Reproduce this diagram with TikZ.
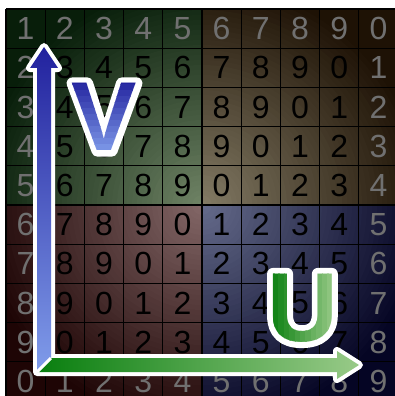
\documentclass[tikz,border=0pt]{standalone}
\usepackage{fontspec}
\setmainfont{Liberation Sans}
\newfontfamily\rimfont{Liberation Sans Bold}[FakeBold=12]
\definecolor{GreenDark}{RGB}{8, 30, 10}
\definecolor{GreenLit}{RGB}{110, 130, 100}
\definecolor{BrownDark}{RGB}{30, 18, 5}
\definecolor{BrownLit}{RGB}{130, 122, 100}
\definecolor{RedDark}{RGB}{30, 5, 5}
\definecolor{RedLit}{RGB}{130, 102, 102}
\definecolor{NavyDark}{RGB}{5, 5, 36}
\definecolor{NavyLit}{RGB}{100, 106, 138}
\definecolor{RimGray}{RGB}{112, 112, 112}
\definecolor{VDark}{RGB}{34, 34, 158}
\definecolor{VLight}{RGB}{128, 156, 234}
\definecolor{UDark}{RGB}{8, 126, 14}
\definecolor{ULight}{RGB}{152, 202, 136}
\newcommand{\cellsize}{39.2}

\begin{document}
\begin{tikzpicture}[x=1pt, y=-1pt,
  every node/.style={inner sep=0pt},
  digit/.style={font=\fontsize{32}{32}\selectfont},
  letter/.style={font=\fontsize{98}{98}\selectfont\bfseries},
  letterrim/.style={font=\fontsize{98}{98}\rimfont, text=white},
  gridline/.style={black, line width=1.3pt},
  arrowrim/.style={draw=white, fill=white, line width=8pt, line join=round}]
\path[use as bounding box] (0,0) rectangle (395,396);
\fill[white] (0,0) rectangle (395,396);
\clip (0,0) rectangle (395,396);
\coordinate (mid) at (202,205);
% lit quadrants
\foreach \qx/\qy/\dk/\lt in {0/0/GreenDark/GreenLit, 1/0/BrownDark/BrownLit,
                             0/1/RedDark/RedLit, 1/1/NavyDark/NavyLit} {
  \begin{scope}
    \clip (6+196*\qx, 9+196*\qy) rectangle ++(196,196);
    \fill[\dk] (6+196*\qx, 9+196*\qy) rectangle ++(196,196);
    \foreach \s in {0,...,44} {
      \pgfmathtruncatemacro\mix{round(\s*100/44)}
      \fill[\lt!\mix!\dk] (mid) circle[radius={(225-5*\s)*1pt}];
    }
  \end{scope}
}
\foreach \k in {0,...,10} {
  \draw[gridline] (6+\cellsize*\k, 9) -- ++(0,392);
  \draw[gridline] (6, 9+\cellsize*\k) -- ++(392,0);
}
% numbers
\foreach \r in {0,...,9} {
  \foreach \c in {0,...,9} {
    \pgfmathtruncatemacro\num{mod(\r+\c+1,10)}
    \pgfmathtruncatemacro\rim{(\r==0)||(\r==9)||(\c==0)||(\c==9)}
    \ifnum\rim=1 \def\ink{RimGray}\else\def\ink{black}\fi
    \node[digit, text=\ink] (n-\r-\c) at (6+\cellsize*\c+\cellsize/2, 9+\cellsize*\r+\cellsize/2) {\num};
  }
}
% axes
\coordinate (corner) at (37,372);
\coordinate (inner) at (51,358);
\path[arrowrim] (corner) -- (37,68) -- (30,68) -- (44,47) -- (58,68) -- (51,68) -- (inner)
  -- (337,358) -- (337,351) -- (359,365) -- (337,379) -- (337,372) -- cycle;
\shade[top color=VDark, bottom color=VLight] (corner) -- (37,68) -- (30,68) -- (44,47)
  -- (58,68) -- (51,68) -- (inner) -- cycle;
\shade[left color=UDark, right color=ULight] (corner) -- (inner) -- (337,358) -- (337,351)
  -- (359,365) -- (337,379) -- (337,372) -- cycle;
\draw[white, line width=3pt] (corner) -- (inner);
% letters
\begin{scope}[line join=round]
  \node[letterrim] (vrim) at (104.5,117) {V};
  \node[letterrim] (urim) at (302.5,308) {U};
\end{scope}
\foreach \s in {0,...,12} {
  \pgfmathtruncatemacro\mix{round(\s*100/12)}
  \begin{scope}
    \clip (60, 78+6*\s) rectangle (150, 84.6+6*\s);
    \node[letter, text=VLight!\mix!VDark] (v-\s) at (104.5,117) {V};
  \end{scope}
  \begin{scope}
    \clip (268+5.4*\s, 260) rectangle (274+5.4*\s, 356);
    \node[letter, text=ULight!\mix!UDark] (u-\s) at (302.5,308) {U};
  \end{scope}
}
\end{tikzpicture}
\end{document}
